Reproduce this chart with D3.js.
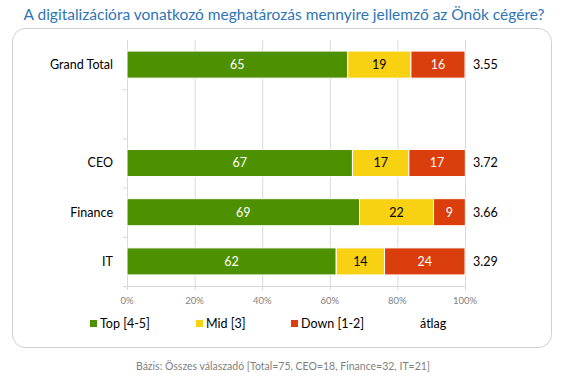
<!DOCTYPE html>
<html><head><meta charset="utf-8">
<script src="https://cdn.jsdelivr.net/npm/d3@7"></script>
<style>body{margin:0;background:#fff;} svg{display:block;font-family:Lato,"Open Sans",sans-serif;}</style>
</head><body><svg id="c" width="564" height="380"></svg>
<script>
const categories = ["Grand Total", "", "CEO", "Finance", "IT"];
const topVals  = [65.3, null, 66.7, 68.8, 61.9];
const midVals  = [18.7, null, 16.7, 21.9, 14.3];
const downVals = [16.0, null, 16.7, 9.4, 23.8];
const avgVals  = ["3.55", null, "3.72", "3.66", "3.29"];
const seriesNames = ["Top [4-5]", "Mid [3]", "Down [1-2]"];
const seriesColors = ["#4E9100", "#F8D113", "#D93E0C"];
const labelColors = ["#fff", "#000", "#fff"];
const xTicks = [0, 20, 40, 60, 80, 100];
const title = "A digitalizációra vonatkozó meghatározás mennyire jellemző az Önök cégére?";
const footnote = "Bázis: Összes válaszadó [Total=75, CEO=18, Finance=32, IT=21]";

const svg = d3.select("#c");
svg.append("rect").attr("x",12.5).attr("y",28.5).attr("width",539).attr("height",319)
  .attr("rx",13).attr("fill","#fff").attr("stroke","#D0D0D0");
svg.append("text").attr("x",284).attr("y",20).attr("text-anchor","middle")
  .attr("fill","#2E75B6").attr("font-size",15.5).text(title);

const x = d3.scaleLinear().domain([0,100]).range([127,465]);
const y = d3.scaleBand().domain(d3.range(categories.length)).range([40,286]).paddingInner(0.45).paddingOuter(0.225);
const yb = d3.scaleBand().domain(d3.range(categories.length)).range([40,286]);

// gridlines
svg.append("g").selectAll("line").data(xTicks).join("line")
  .attr("x1",d=>x(d)+0.5).attr("x2",d=>x(d)+0.5).attr("y1",40).attr("y2",290)
  .attr("stroke","#D9D9D9");
// left axis
svg.append("line").attr("x1",127.5).attr("x2",127.5).attr("y1",40).attr("y2",286).attr("stroke","#D9D9D9");
svg.append("g").selectAll("line").data(d3.range(1,categories.length+1)).join("line")
  .attr("x1",123).attr("x2",127).attr("y1",i=>40+i*yb.step()+0.5).attr("y2",i=>40+i*yb.step()+0.5).attr("stroke","#D9D9D9");
svg.append("line").attr("x1",127).attr("x2",465.5).attr("y1",286.5).attr("y2",286.5).attr("stroke","#D9D9D9");
svg.append("g").selectAll("text").data(xTicks).join("text")
  .attr("x",d=>x(d)).attr("y",304).attr("text-anchor","middle").attr("font-size",9.5)
  .attr("fill","#7F7F7F").text(d=>d+"%");

const rows = categories.map((c,i)=>({c,i,vals:[topVals[i],midVals[i],downVals[i]],avg:avgVals[i]}));
rows.forEach(r=>{
  svg.append("text").attr("x",113).attr("y",y(r.i)+y.bandwidth()/2).attr("dy","0.35em")
    .attr("text-anchor","end").attr("font-size",12.5).attr("fill","#000").text(r.c);
  if (r.vals[0]==null) return;
  let acc=0;
  r.vals.forEach((v,k)=>{
    const x0=x(acc), x1=x(acc+v);
    svg.append("rect").attr("x",x0).attr("y",y(r.i)).attr("width",x1-x0).attr("height",y.bandwidth())
      .attr("fill",seriesColors[k]).attr("stroke","#fff").attr("stroke-width",1);
    svg.append("text").attr("x",(x0+x1)/2).attr("y",y(r.i)+y.bandwidth()/2).attr("dy","0.35em")
      .attr("text-anchor","middle").attr("font-size",12.5).attr("fill",labelColors[k]).text(Math.round(v));
    acc+=v;
  });
  svg.append("text").attr("x",473).attr("y",y(r.i)+y.bandwidth()/2).attr("dy","0.35em")
    .attr("font-size",12.5).attr("fill","#000").text(r.avg);
});

// legend
const legX = [90, 196, 291];
seriesNames.forEach((n,k)=>{
  svg.append("rect").attr("x",legX[k]).attr("y",320).attr("width",7).attr("height",7).attr("fill",seriesColors[k]);
  svg.append("text").attr("x",legX[k]+10).attr("y",324).attr("dy","0.35em").attr("font-size",12.5).text(n);
});
svg.append("text").attr("x",420).attr("y",324).attr("dy","0.35em").attr("font-size",12.5).text("átlag");

svg.append("text").attr("x",283).attr("y",370).attr("text-anchor","middle").attr("font-size",10.5)
  .attr("fill","#7F7F7F").text(footnote);
</script></body></html>
